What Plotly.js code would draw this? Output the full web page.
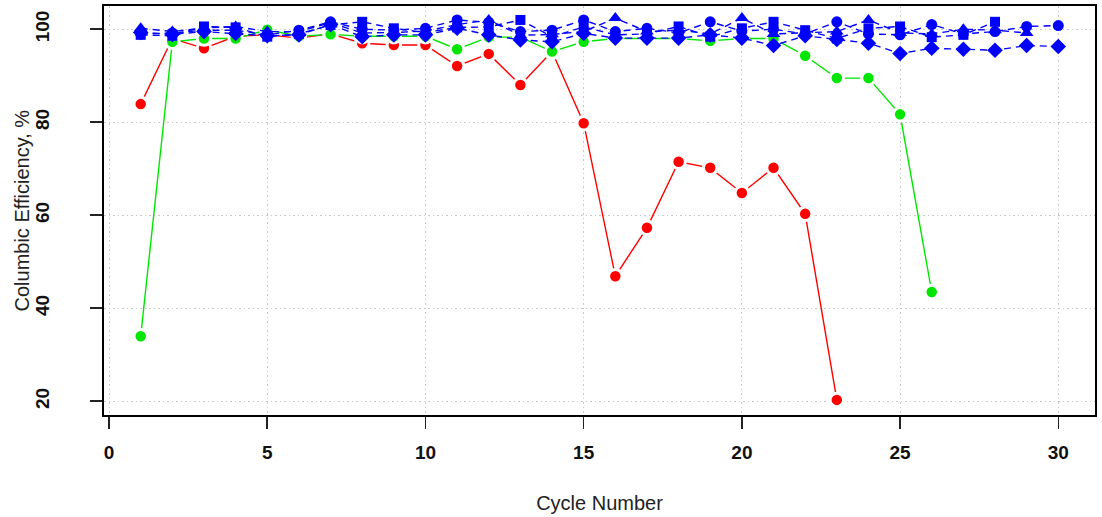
<!DOCTYPE html>
<html>
<head>
<meta charset="utf-8">
<script src="https://cdn.plot.ly/plotly-3.0.1.min.js"></script>
<style>html,body{margin:0;padding:0;background:#fff;}#chart{width:1102px;height:517px;}</style>
</head>
<body>
<div id="chart"></div>
<script>
// Cycle numbers
var cycles = [1,2,3,4,5,6,7,8,9,10,11,12,13,14,15,16,17,18,19,20,21,22,23,24,25,26,27,28,29,30];

// Red series (circles, solid)
var redY = [83.9,98.0,95.9,98.5,98.8,98.1,99.0,97.0,96.6,96.6,92.1,94.7,88.0,95.2,79.8,46.9,57.3,71.5,70.2,64.8,70.2,60.3,20.3];
// Green series (circles, solid)
var greenY = [34.0,97.3,98.0,98.0,99.9,98.5,98.9,98.5,98.5,98.5,95.7,98.3,98.3,95.2,97.3,98.0,98.0,98.0,97.5,98.0,98.0,94.3,89.5,89.5,81.7,43.5];
// Blue series (dashed)
var blueCircleY = [99.0,99.2,99.8,99.8,98.8,99.8,101.6,100.0,99.8,100.2,102.0,101.5,99.5,99.8,102.0,99.5,100.2,99.2,101.6,99.6,100.0,99.0,101.6,99.0,98.8,101.0,99.0,99.5,100.6,100.8];
var blueSquareY = [98.8,98.6,100.6,100.4,98.4,99.0,100.9,101.6,100.2,99.3,100.4,100.5,102.0,98.4,100.5,98.8,99.0,100.6,98.4,100.2,101.6,99.8,98.0,100.2,100.6,98.3,98.8,101.6];
var blueTriangleY = [100.2,99.5,100.3,100.6,99.5,99.5,101.4,99.2,99.3,99.6,101.0,102.0,98.7,98.9,99.5,102.4,99.5,99.8,99.0,102.4,99.0,99.2,99.5,102.0,99.2,99.0,100.0,99.8,99.2];
var blueDiamondY = [99.3,98.9,99.5,99.1,98.6,98.8,101.0,98.4,98.8,98.8,100.2,98.8,97.7,97.3,99.1,98.1,98.1,98.1,98.8,98.1,96.5,98.6,97.8,97.0,94.8,95.9,95.7,95.5,96.5,96.3];

var xTicks = [0,5,10,15,20,25,30];
var yTicks = [20,40,60,80,100];
var xTitle = 'Cycle Number';
var yTitle = 'Columbic Efficiency, %';

function solidTrace(y, color) {
  return {
    x: cycles.slice(0, y.length), y: y, type: 'scatter', mode: 'lines+markers',
    line: {color: color, width: 1.4},
    marker: {symbol: 'circle', size: 13.5, color: color, line: {color: '#ffffff', width: 3}},
    hoverinfo: 'skip', showlegend: false
  };
}
function blueTrace(y, symbol, size) {
  return {
    x: cycles.slice(0, y.length), y: y, type: 'scatter', mode: 'lines+markers',
    line: {color: '#0000ff', width: 1.4, dash: '7px,5px'},
    marker: {symbol: symbol, size: size, color: '#0000ff', line: {width: 0}},
    hoverinfo: 'skip', showlegend: false
  };
}

var data = [
  solidTrace(redY, '#ff0000'),
  solidTrace(greenY, '#00e600'),
  blueTrace(blueCircleY, 'circle', 11),
  blueTrace(blueSquareY, 'square', 10),
  blueTrace(blueTriangleY, 'triangle-up', 12),
  blueTrace(blueDiamondY, 'diamond', 12)
];

var tickFont = {family: 'Liberation Sans, Arial, sans-serif', size: 19, color: '#111111', weight: 'bold'};
var titleFont = {family: 'Liberation Sans, Arial, sans-serif', size: 20, color: '#222222'};

var layout = {
  width: 1102, height: 517,
  margin: {l: 104, r: 7, t: 6, b: 102, pad: 0},
  paper_bgcolor: '#ffffff', plot_bgcolor: '#ffffff',
  showlegend: false,
  xaxis: {
    range: [-0.16, 31.16], tickmode: 'array', tickvals: xTicks, ticktext: xTicks.map(String),
    showgrid: true, gridcolor: '#c8c8c8', griddash: '1.5px,3px', gridwidth: 1,
    zeroline: false, showline: true, mirror: true, linecolor: '#000000', linewidth: 1.6,
    ticks: 'outside', ticklen: 12, tickwidth: 1.6, tickcolor: '#222222',
    tickfont: tickFont, ticklabelstandoff: 8,
    title: {text: xTitle, font: titleFont, standoff: 33},
    automargin: false
  },
  yaxis: {
    range: [17.05, 105.0], tickmode: 'array', tickvals: yTicks, ticktext: yTicks.map(String),
    showgrid: true, gridcolor: '#c8c8c8', griddash: '1.5px,3px', gridwidth: 1,
    zeroline: false, showline: true, mirror: true, linecolor: '#000000', linewidth: 1.6,
    ticks: 'outside', ticklen: 12, tickwidth: 1.6, tickcolor: '#222222',
    tickfont: tickFont, tickangle: -90, ticklabelstandoff: 34,
    automargin: false
  },
  annotations: [{
    text: yTitle, font: titleFont, textangle: -90,
    xref: 'paper', yref: 'paper', x: 0, y: 0.5, xanchor: 'center', yanchor: 'middle',
    xshift: -83, showarrow: false
  }]
};

Plotly.newPlot('chart', data, layout, {displayModeBar: false, staticPlot: true});
</script>
</body>
</html>
